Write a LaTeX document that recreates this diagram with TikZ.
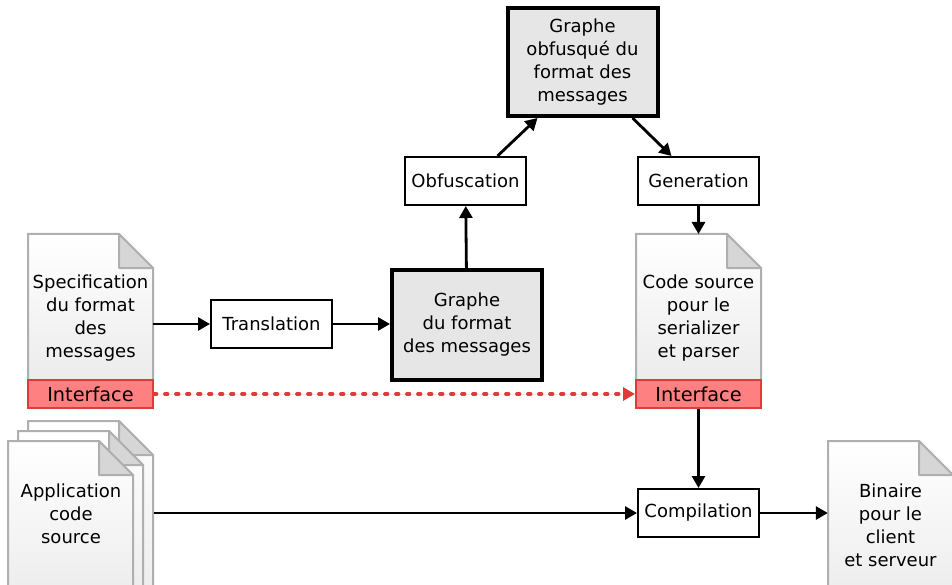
\documentclass[tikz,border=0pt]{standalone}
\usepackage{fontspec}
\setmainfont{DejaVu Sans}
\usetikzlibrary{positioning, arrows.meta}

\definecolor{pageline}{HTML}{AFAFAF}
\definecolor{pagebot}{HTML}{ECECEC}
\definecolor{foldgray}{HTML}{D6D6D6}
\definecolor{graphgray}{HTML}{E6E6E6}
\definecolor{ifacefill}{HTML}{FF8080}
\definecolor{ifaceline}{HTML}{E03A3A}

% page with a dog-eared corner: left, top, right, bottom
\newcommand{\docpage}[4]{%
  \draw[pageline, line width=2, top color=white, bottom color=pagebot]
    (#1,#2) -- ({#3-34},#2) -- (#3,{#2+34}) -- (#3,#4) -- (#1,#4) -- cycle;
  \draw[pageline, line width=2, fill=foldgray, line join=round]
    ({#3-34},#2) -- ({#3-34},{#2+34}) -- (#3,{#2+34}) -- cycle;
}

\begin{document}
\begin{tikzpicture}[
  x=1pt, y=-1pt,
  every node/.style={font=\fontsize{18}{23}\selectfont},
  stepbox/.style={rectangle, draw, line width=2, fill=white, minimum width=121, minimum height=48, inner sep=0},
  graphbox/.style={rectangle, draw, line width=4, fill=graphgray, minimum width=150, align=center, inner sep=0},
  doctext/.style={align=center, minimum width=125, inner sep=0},
  iface/.style={rectangle, draw=ifaceline, line width=2, fill=ifacefill, minimum width=125, minimum height=28, inner sep=0, font=\fontsize{19.3}{23}\selectfont},
  flow/.style={-{Triangle[length=12,width=13]}, line width=2.8},
]
\clip (0,0) rectangle (952,585);

%%% Pages
\docpage{28}{234}{153}{380}
\docpage{636}{234}{761}{380}
\docpage{28}{421}{153}{600}
\docpage{18}{431}{143}{600}
\docpage{8}{441}{133}{600}
\docpage{828}{441}{953}{600}

%%% Nodes
\node[doctext] (spec) at (90.5,318) {Specification\\du format\\des\\messages};
\node[iface] (ifacein) at (90.5,394) {Interface};
\node[doctext] (app) at (71,514) {Application\\code\\source};
\node[stepbox] (trans) at (271.5,324) {Translation};
\node[graphbox, minimum height=110] (graph) at (467,325) {Graphe\\du format\\des messages};
\node[stepbox] (obf) at (465.5,181) {Obfuscation};
\node[graphbox, minimum height=108] (gobf) at (582.5,62) {Graphe\\obfusqué du\\format des\\messages};
\node[stepbox] (gen) at (698.5,181) {Generation};
\node[doctext] (code) at (698.5,318) {Code source\\pour le\\serializer\\et parser};
\coordinate (codetop) at (698.5,234);
\node[iface] (ifaceout) at (698.5,394) {Interface};
\node[stepbox] (comp) at (698.5,513) {Compilation};
\node[doctext] (bin) at (890.5,525) {Binaire\\pour le\\client\\et serveur};

%%% Edges
\draw[flow] (spec.east |- trans) -- (trans);
\draw[flow] (trans) -- (trans -| graph.west);
\draw[flow] (graph) -- (obf);
\draw[flow] ([xshift=32]obf.north) -- ([xshift=-45]gobf.south);
\draw[flow] ([xshift=50]gobf.south) -- ([xshift=-27]gen.north);
\draw[flow] (gen) -- (codetop);
\draw[flow, draw=ifaceline, fill=ifaceline, line width=3.8, line cap=round, dash pattern=on 2.5 off 8.5]
  (ifacein) -- (ifaceout);
\draw[flow] (ifaceout) -- (comp);
\draw[flow] ([xshift=20]app.east |- comp) -- (comp);
\draw[flow] (comp) -- (comp -| bin.west);

\end{tikzpicture}
\end{document}
